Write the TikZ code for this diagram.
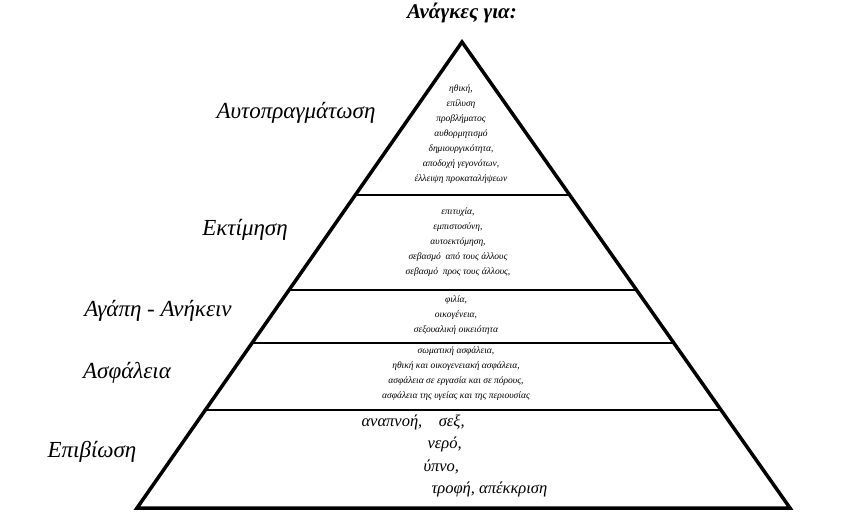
\documentclass[tikz,border=0pt]{standalone}
\usepackage{fontspec}
\setmainfont{Liberation Serif}
\begin{document}
\begin{tikzpicture}[x=1pt,y=-1pt,
  lvl/.style={font=\itshape\fontsize{23}{26}\selectfont},
  small/.style={font=\itshape\fontsize{9.5}{15}\selectfont,align=center},
  big/.style={font=\itshape\fontsize{16.5}{23}\selectfont,align=left},
  edge/.style={line width=3.5pt}]
\useasboundingbox (0,0) rectangle (843,524);
\coordinate (A) at (462,42);
\coordinate (L) at (137,508);
\coordinate (R) at (790,508);
\draw[edge,line join=miter] (A) -- (L) -- (R) -- cycle;
\coordinate (l1) at (355.3,195); \coordinate (r1) at (569.7,195);
\coordinate (l2) at (289.0,290); \coordinate (r2) at (636.6,290);
\coordinate (l3) at (252.1,343); \coordinate (r3) at (673.9,343);
\coordinate (l4) at (205.4,410); \coordinate (r4) at (721.0,410);
\draw[line width=2.5pt] (l1)--(r1) (l2)--(r2) (l3)--(r3) (l4)--(r4);
\node[font=\bfseries\itshape\fontsize{21}{24}\selectfont] (t) at (462,13) {Ανάγκες για:};
\node[lvl] (n1) at (296,113) {Αυτοπραγμάτωση};
\node[lvl] (n2) at (245,230) {Εκτίμηση};
\node[lvl] (n3) at (158,311) {Αγάπη - Ανήκειν};
\node[lvl] (n4) at (127,373) {Ασφάλεια};
\node[lvl] (n5) at (92,452) {Επιβίωση};
\node[small] (s1) at (461,134) {ηθική,\\επίλυση\\προβλήματος\\αυθορμητισμό\\δημιουργικότητα,\\αποδοχή γεγονότων,\\έλλειψη προκαταλήψεων};
\node[small] (s2) at (458,242) {επιτυχία,\\εμπιστοσύνη,\\αυτοεκτόμηση,\\σεβασμό\ \ από τους άλλους\\σεβασμό\ \ προς τους άλλους,};
\node[small] (s3) at (456,315) {φιλία,\\οικογένεια,\\σεξουαλική οικειότητα};
\node[small] (s4) at (456,374) {σωματική ασφάλεια,\\ηθική και οικογενειακή ασφάλεια,\\ασφάλεια σε εργασία και σε πόρους,\\ασφάλεια της υγείας και της περιουσίας};
\node[big,anchor=north west] (b1) at (358,411) {αναπνοή,\quad σεξ,};
\node[big,anchor=north west] (b2) at (424,433) {νερό,};
\node[big,anchor=north west] (b3) at (420,456) {ύπνο,};
\node[big,anchor=north west] (b4) at (428,478) {τροφή, απέκκριση};
\end{tikzpicture}
\end{document}
